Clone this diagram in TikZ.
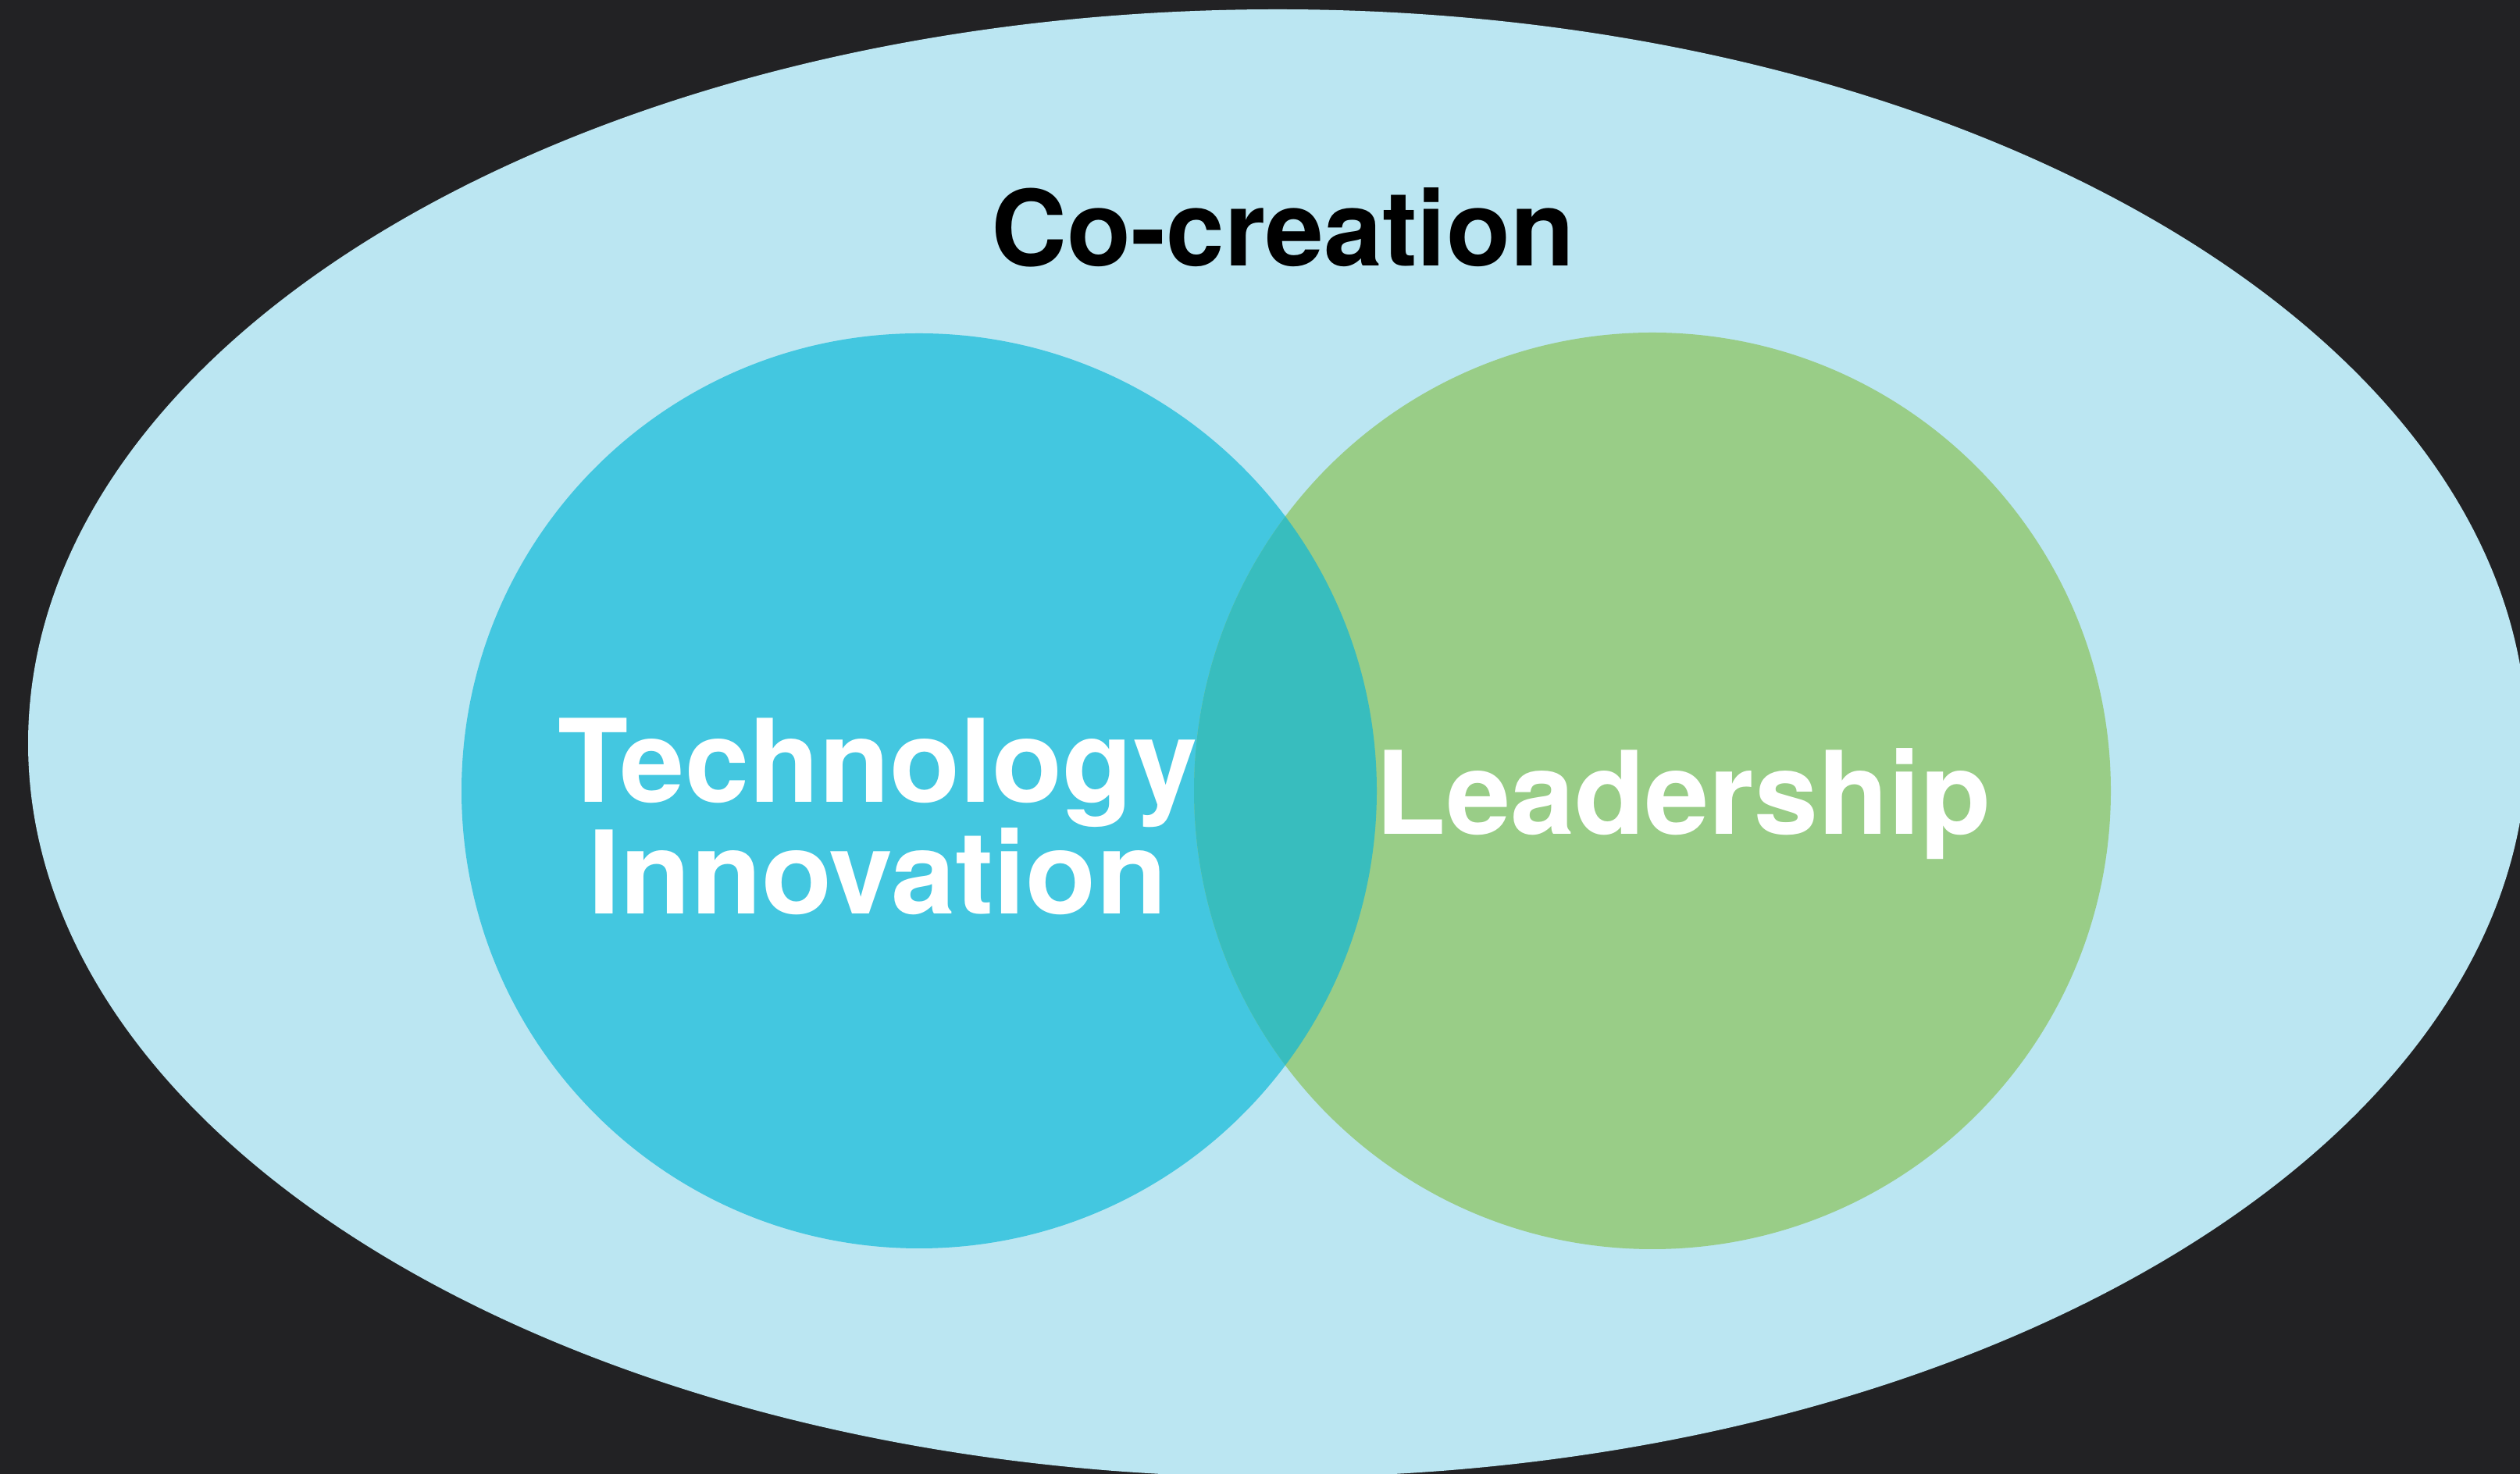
\documentclass[tikz,border=0pt]{standalone}
\usepackage{fontspec}
\setmainfont{TeX Gyre Heros}
\definecolor{bgdark}{HTML}{222224}
\definecolor{cocreate}{HTML}{BBE6F2}
\definecolor{techblue}{HTML}{43C7E0}
\definecolor{leadgreen}{HTML}{99CD87}
\definecolor{overlap}{HTML}{38BDBE}
\tikzset{
  outerlabel/.style={font=\bfseries\fontsize{38.2}{40}\selectfont, text=black, anchor=base, inner sep=0pt},
  innerlabel/.style={font=\bfseries\fontsize{42}{40.7}\selectfont, text=white, align=center, anchor=base, inner sep=0pt},
}
\begin{document}
\begin{tikzpicture}
	\fill[bgdark] (0,0) rectangle (32.27,18.88);
	\useasboundingbox (0,0) rectangle (32.27,18.88);
	\clip (0,0) rectangle (32.27,18.88);
	\coordinate (techc) at (11.77,8.75);
	\coordinate (leadc) at (21.16,8.75);
	\fill[cocreate] (16.36,9.36) ellipse [x radius=16, y radius=9.4];
	\fill[techblue] (techc) circle (5.86);
	\fill[leadgreen] (leadc) circle (5.87);
	\begin{scope}
		\clip (techc) circle (5.86);
		\fill[overlap] (leadc) circle (5.87);
	\end{scope}
	\node[outerlabel] (cocreation) at (16.43,15.47) {Co-creation};
	\node[innerlabel] (tech) at (11.24,7.17) {Technology\\Innovation};
	\node[innerlabel] (lead) at (21.56,8.19) {Leadership};
\end{tikzpicture}
\end{document}
